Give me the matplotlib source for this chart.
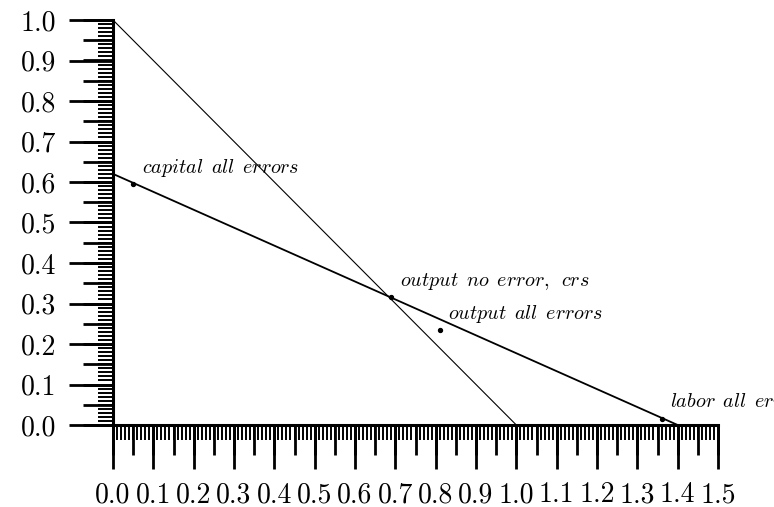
import matplotlib
matplotlib.use("Agg")
import matplotlib.pyplot as plt
from matplotlib.ticker import MultipleLocator, FormatStrFormatter, NullFormatter

plt.rcParams['mathtext.fontset'] = 'cm'
plt.rcParams['font.family'] = ['cmr10', 'DejaVu Serif']
plt.rcParams['axes.formatter.use_mathtext'] = True

# isoquant lines
no_err_x = [0.0, 1.0]
no_err_y = [1.0, 0.0]
all_err_x = [0.0, 1.4]
all_err_y = [0.62, 0.0]

# labelled points
pt_names = ['capital all errors', 'output no error, crs', 'output all errors', 'labor all errors']
pt_x = [0.05, 0.69, 0.81, 1.36]
pt_y = [0.595, 0.315, 0.235, 0.016]

fig = plt.figure(figsize=(7.74, 5.07), dpi=100)
ax = fig.add_axes([113 / 774, 82 / 507, 605 / 774, 405 / 507])

ax.plot(no_err_x, no_err_y, color='black', lw=0.8)
ax.plot(all_err_x, all_err_y, color='black', lw=1.3)
ax.scatter(pt_x, pt_y, s=8, color='black', zorder=3)

for name, x, y in zip(pt_names, pt_x, pt_y):
    label = r'$\mathit{' + name.replace(' ', r'\ \,') + '}$'
    ax.annotate(label, (x, y), xytext=(6, 8), textcoords='offset points',
                fontsize=14.5, annotation_clip=False)

ax.set_xlim(0, 1.5)
ax.set_ylim(0, 1.0)

for s in ['top', 'right']:
    ax.spines[s].set_visible(False)
for s in ['left', 'bottom']:
    ax.spines[s].set_linewidth(2.2)

ax.xaxis.set_major_locator(MultipleLocator(0.1))
ax.yaxis.set_major_locator(MultipleLocator(0.1))
ax.xaxis.set_minor_locator(MultipleLocator(0.01))
ax.yaxis.set_minor_locator(MultipleLocator(0.01))
ax.xaxis.set_major_formatter(FormatStrFormatter('%.1f'))
ax.yaxis.set_major_formatter(FormatStrFormatter('%.1f'))

ax.tick_params(which='major', length=32, width=2.0, pad=9, labelsize=20)
ax.tick_params(which='minor', length=11, width=1.4)

# medium ticks at 0.05 steps
secx = ax.secondary_xaxis('bottom')
secx.spines['bottom'].set_visible(False)
secx.xaxis.set_major_locator(MultipleLocator(0.05))
secx.xaxis.set_major_formatter(NullFormatter())
secx.tick_params(length=21.5, width=2.0)
secy = ax.secondary_yaxis('left')
secy.spines['left'].set_visible(False)
secy.yaxis.set_major_locator(MultipleLocator(0.05))
secy.yaxis.set_major_formatter(NullFormatter())
secy.tick_params(length=21.5, width=2.0)

fig.savefig('out.png', dpi=100)
